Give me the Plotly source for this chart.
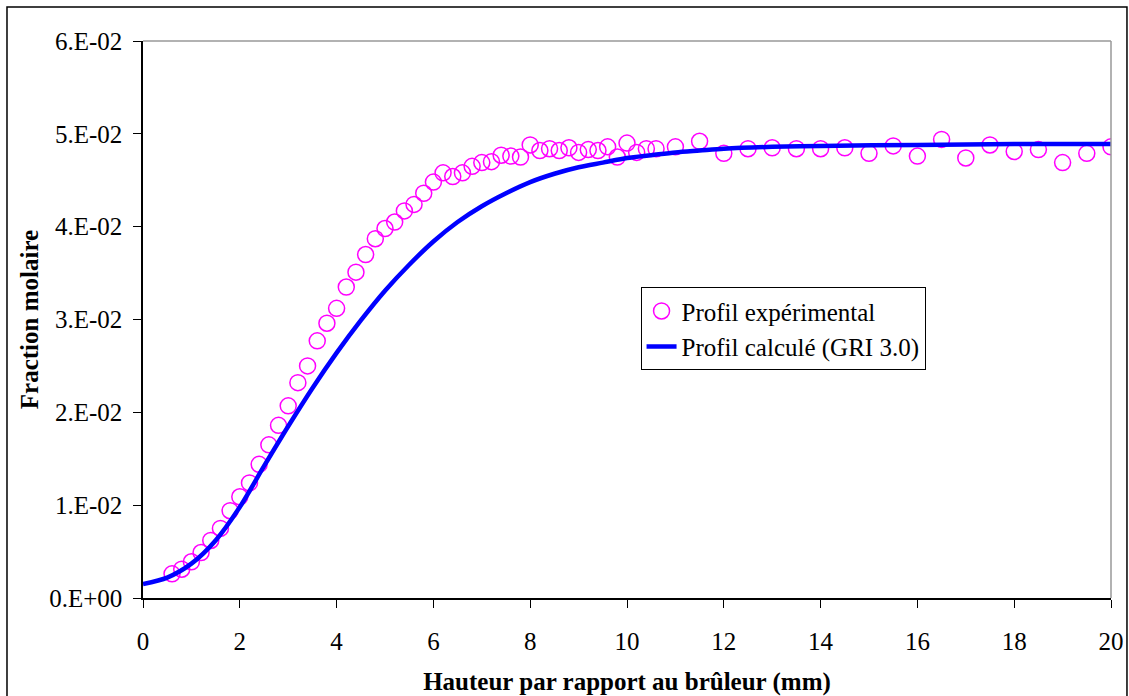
import plotly.graph_objects as go

# experimental profile (mm, mole fraction)
x_exp = [0.6, 0.8, 1.0, 1.2, 1.4, 1.6, 1.8, 2.0, 2.2, 2.4, 2.6, 2.8, 3.0, 3.2, 3.4,
         3.6, 3.8, 4.0, 4.2, 4.4, 4.6, 4.8, 5.0, 5.2, 5.4, 5.6, 5.8, 6.0, 6.2, 6.4,
         6.6, 6.8, 7.0, 7.2, 7.4, 7.6, 7.8, 8.0, 8.2, 8.4, 8.6, 8.8, 9.0, 9.2, 9.4,
         9.6, 9.8, 10.0, 10.2, 10.4, 10.6, 11.0, 11.5, 12.0, 12.5, 13.0, 13.5, 14.0,
         14.5, 15.0, 15.5, 16.0, 16.5, 17.0, 17.5, 18.0, 18.5, 19.0, 19.5, 20.0]
y_exp = [0.0026, 0.0031, 0.0039, 0.0049, 0.0062, 0.0075, 0.0094, 0.0109, 0.0124, 0.0144,
         0.0165, 0.0186, 0.0207, 0.0232, 0.0250, 0.0277, 0.0296, 0.0312, 0.0335, 0.0351,
         0.0370, 0.0387, 0.0398, 0.0405, 0.0417, 0.0424, 0.0436, 0.0448, 0.0458, 0.0454,
         0.0458, 0.0465, 0.0469, 0.0470, 0.0477, 0.0476, 0.0475, 0.0488, 0.0482, 0.0484,
         0.0482, 0.0485, 0.0480, 0.0483, 0.0482, 0.0486, 0.0475, 0.0490, 0.0480, 0.0484,
         0.0484, 0.0486, 0.0492, 0.0479, 0.0484, 0.0485, 0.0484, 0.0484, 0.0485, 0.0479,
         0.0487, 0.0476, 0.0494, 0.0474, 0.0488, 0.0481, 0.0483, 0.0469, 0.0479, 0.0486]

# computed profile (GRI 3.0)
x_calc = [0, 0.5, 1.0, 1.5, 2.0, 2.5, 3.0, 3.5, 4.0, 4.5, 5.0, 5.5, 6.0, 6.5, 7.0,
          7.5, 8.0, 8.5, 9.0, 9.5, 10.0, 10.5, 11.0, 11.5, 12.0, 13.0, 14.0, 16.0,
          18.0, 20.0]
y_calc = [0.0015, 0.0022, 0.0037, 0.0062, 0.0098, 0.0142, 0.0185, 0.0226, 0.0264, 0.0299,
          0.0331, 0.0359, 0.0384, 0.0405, 0.0422, 0.0436, 0.0448, 0.0457, 0.0464, 0.0469,
          0.0474, 0.0477, 0.0480, 0.0482, 0.0484, 0.0486, 0.0487, 0.0488, 0.0489, 0.0489]

x_ticks = [0, 2, 4, 6, 8, 10, 12, 14, 16, 18, 20]
y_ticks = [0, 0.01, 0.02, 0.03, 0.04, 0.05, 0.06]
y_ticktext = ["0.E+00", "1.E-02", "2.E-02", "3.E-02", "4.E-02", "5.E-02", "6.E-02"]

serif = "Liberation Serif, Times New Roman, serif"

fig = go.Figure()

fig.add_trace(go.Scatter(
    name="Profil expérimental", x=x_exp, y=y_exp, mode="markers",
    marker=dict(symbol="circle-open", size=16, color="#FF00FF",
                line=dict(width=1.5, color="#FF00FF"))))

fig.add_trace(go.Scatter(
    name="Profil calculé (GRI 3.0)", x=x_calc, y=y_calc, mode="lines",
    line=dict(color="#0000FF", width=4.5, shape="spline", smoothing=0.8)))

fig.update_xaxes(
    range=[0, 20], tickvals=x_ticks, ticks="outside", ticklen=8, tickcolor="black",
    showline=True, linecolor="black", linewidth=1.5, showgrid=False, zeroline=False,
    tickfont=dict(family=serif, size=25, color="black"), ticklabelstandoff=12,
    title=dict(text="<b>Hauteur par rapport au brûleur (mm)</b>", standoff=22,
               font=dict(family=serif, size=25, color="black")),
    automargin=False)

fig.update_yaxes(
    range=[0, 0.06], tickvals=y_ticks, ticktext=y_ticktext, ticks="outside", ticklen=8,
    tickcolor="black", showline=True, linecolor="black", linewidth=1.5, showgrid=False,
    zeroline=False, tickfont=dict(family=serif, size=25, color="black"), ticklabelstandoff=6,
    title=dict(text="<b>Fraction molaire</b>", standoff=3,
               font=dict(family=serif, size=25, color="black")),
    automargin=False)

# grey frame on top/right of the plot area, black frame around the chart
fig.add_shape(type="line", xref="paper", yref="paper", x0=0, x1=1, y0=1, y1=1,
              line=dict(color="#999999", width=1.5))
fig.add_shape(type="line", xref="paper", yref="paper", x0=1, x1=1, y0=0, y1=1,
              line=dict(color="#999999", width=1.5))
fig.add_shape(type="rect", xref="paper", yref="paper", x0=-0.1405, x1=1.0165,
              y0=-0.3, y1=1.061, line=dict(color="black", width=1.5))

fig.update_layout(
    width=1129, height=696,
    margin=dict(l=143, r=18, t=41, b=98),
    paper_bgcolor="white", plot_bgcolor="white",
    font=dict(family=serif, size=25, color="black"),
    legend=dict(x=0.514, y=0.558, xanchor="left", yanchor="top",
                bgcolor="white", bordercolor="black", borderwidth=1,
                font=dict(family=serif, size=25, color="black"),
                tracegroupgap=0, itemwidth=30),
)

# drop the default 8px page margin so the figure fills the window without scrolling
fig.write_html("out.html", config={"displayModeBar": False},
               post_script="document.body.style.margin='0';"
                           "document.body.style.overflow='hidden';")
